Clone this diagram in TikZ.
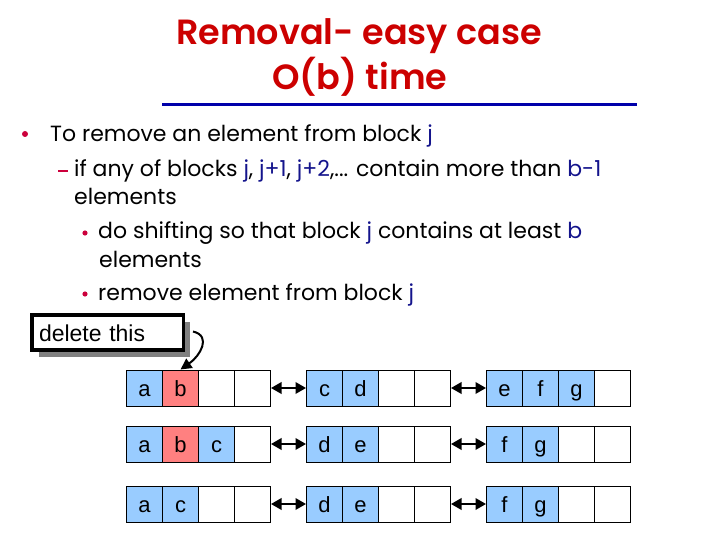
\documentclass[tikz,border=0pt]{standalone}
\usepackage{fontspec}
\setmainfont{Poppins}
\newfontfamily\cellfont{Liberation Sans}
\newfontfamily\titlefont{Poppins SemiBold}
\usetikzlibrary{arrows.meta,shadows,calc}
\definecolor{titlered}{RGB}{204,0,0}
\definecolor{titleblue}{RGB}{0,0,170}
\definecolor{navy}{RGB}{20,20,140}
\definecolor{bulletred}{RGB}{204,0,60}
\definecolor{cB}{RGB}{153,204,255}
\definecolor{cR}{RGB}{255,128,128}
\definecolor{cW}{RGB}{255,255,255}
\definecolor{shadowgray}{RGB}{128,128,128}
\begin{document}
\begin{tikzpicture}[x=1pt,y=-1pt,
  txt/.style={anchor=base west, inner sep=0pt, font=\fontsize{22}{22}\selectfont},
  ttl/.style={anchor=base, inner sep=0pt, text=titlered, font=\titlefont\fontsize{35}{35}\selectfont},
  cellbox/.style={draw, line width=1pt, minimum width=36pt, minimum height=36pt, inner sep=0pt,
    text height=16pt, text depth=0pt, font=\cellfont\fontsize{22}{22}\selectfont},
  link/.style={line width=2pt, {Triangle[length=10.5pt,width=11.5pt]}-{Triangle[length=10.5pt,width=11.5pt]}},
  callout/.style={draw, line width=3.5pt, fill=white, minimum width=151.5pt, minimum height=35pt,
    text width=137pt, align=left, inner xsep=7.25pt, inner ysep=0pt, text height=18pt, text depth=0pt,
    font=\cellfont\fontsize{23}{23}\selectfont,
    drop shadow={shadow xshift=7pt, shadow yshift=-7pt, fill=shadowgray, opacity=1}},
  ptr/.style={line width=2pt, -{Triangle[length=11pt,width=11pt]}}
]
\useasboundingbox (0,0) rectangle (720,540);

% title
\node[ttl] (t1) at (359,45) {Removal- easy case};
\node[ttl] (t2) at (360,90) {O(b) time};
\draw[line width=3pt, titleblue] (162,105) -- (637,105);

% bullets
\fill[bulletred] (25,134) circle (3pt);
\draw[bulletred, line width=1.5pt] (58,171) -- (68,171);
\fill[bulletred] (85,233) circle (2.6pt);
\fill[bulletred] (85,294) circle (2.6pt);

\node[txt] (l1) at (50,142) {To remove an element from block \textcolor{navy}{j}};
\node[txt] (l2) at (74,177) {if any of blocks \textcolor{navy}{j}, \textcolor{navy}{j+1}, \textcolor{navy}{j+2},... contain more than \textcolor{navy}{b-1}};
\node[txt] (l3) at (74,205) {elements};
\node[txt] (l4) at (98,239) {do shifting so that block \textcolor{navy}{j} contains at least \textcolor{navy}{b}};
\node[txt] (l5) at (99,267) {elements};
\node[txt] (l6) at (98,300) {remove element from block \textcolor{navy}{j}};

% blocks
\foreach \row/\yc/\cells in {
  1/388/{B/a,R/b,W/{},W/{},B/c,B/d,W/{},W/{},B/e,B/f,B/g,W/{}},
  2/444/{B/a,R/b,B/c,W/{},B/d,B/e,W/{},W/{},B/f,B/g,W/{},W/{}},
  3/504/{B/a,B/c,W/{},W/{},B/d,B/e,W/{},W/{},B/f,B/g,W/{},W/{}}}{
  \foreach \f/\t [count=\i] in \cells {
    \pgfmathsetmacro\xc{126.5 + 180*int((\i-1)/4) + 36*mod(\i-1,4) + 18}
    \node[cellbox, fill=c\f] (r\row-\i) at (\xc,\yc) {\t};
  }
  \draw[link] (r\row-4.east) -- (r\row-5.west);
  \draw[link] (r\row-8.east) -- (r\row-9.west);
}

% callout
\node[callout] (del) at (107.5,332.5) {delete this};
\draw[ptr] ([xshift=8pt,yshift=1pt]del.east) .. controls (212,336) and (200,356) .. (r1-2.north);
\end{tikzpicture}
\end{document}
